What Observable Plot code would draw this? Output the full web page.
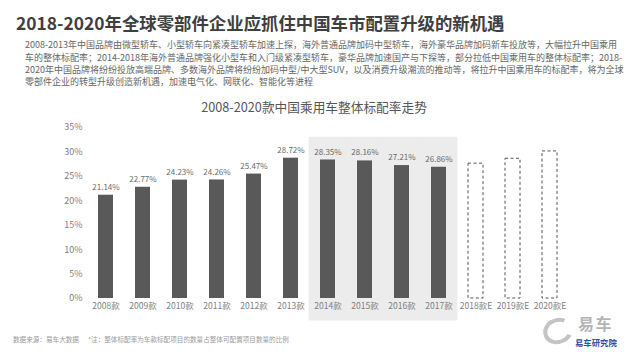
<!DOCTYPE html>
<html><head><meta charset="utf-8">
<script src="https://cdn.jsdelivr.net/npm/d3@7"></script>
<script src="https://cdn.jsdelivr.net/npm/@observablehq/plot@0.6"></script>
<style>
body{margin:0;background:#fff;width:630px;height:354px;overflow:hidden;position:relative;font-family:"Noto Sans CJK SC",sans-serif;}
.abs{position:absolute;white-space:nowrap;}
#title{left:16px;top:12px;font-size:17.4px;font-weight:700;color:#3f3f3f;line-height:22px;}
.pl{left:25px;font-size:9px;color:#666;line-height:12px;text-align:justify;text-align-last:justify;}
#ctitle{left:0;width:628px;top:98px;text-align:center;font-size:12.7px;line-height:18px;color:#555;}
#chart{position:absolute;left:0;top:95px;}
.foot{top:333px;font-size:6.6px;line-height:12px;color:#9a9a9a;}
#ring{position:absolute;left:543px;top:318px;width:22px;height:18px;border:4px solid #c4c4c4;border-right-color:transparent;border-radius:50%;transform:rotate(-20deg);}
#logo1{left:578px;top:315px;font-size:16px;line-height:17px;color:#b5b5b5;font-weight:700;letter-spacing:1.5px;}
#logo2{left:575px;top:337px;font-size:8.4px;line-height:10px;color:#2b55a0;font-weight:700;}
</style></head><body>
<div id="title" class="abs">2018-2020年全球零部件企业应抓住中国车市配置升级的新机遇</div>
<div class="abs pl" style="top:39px;width:573px">2008-2013年中国品牌由微型轿车、小型轿车向紧凑型轿车加速上探，海外普通品牌加码中型轿车，海外豪华品牌加码新车投放等，大幅拉升中国乘用</div>
<div class="abs pl" style="top:52px;width:581px">车的整体标配率；2014-2018年海外普通品牌强化小型车和入门级紧凑型轿车，豪华品牌加速国产与下探等，部分拉低中国乘用车的整体标配率；2018-</div>
<div class="abs pl" style="top:64px;width:570px">2020年中国品牌将纷纷投放高端品牌、多数海外品牌将纷纷加码中型/中大型SUV，以及消费升级潮流的推动等，将拉升中国乘用车的标配率，将为全球</div>
<div class="abs pl" style="top:76px;text-align-last:auto">零部件企业的转型升级创造新机遇，加速电气化、网联化、智能化等进程</div>
<div id="chart"></div>
<div id="ctitle" class="abs">2008-2020款中国乘用车整体标配率走势</div>
<div class="abs foot" style="left:13px">数据来源：易车大数据</div>
<div class="abs foot" style="left:88px">*注：整体标配率为车款标配项目的数量占整体可配置项目数量的比例</div>
<div id="ring"></div>
<div id="logo1" class="abs">易车</div>
<div id="logo2" class="abs">易车研究院</div>
<script>
const years = ["2008款","2009款","2010款","2011款","2012款","2013款","2014款","2015款","2016款","2017款"];
const values = [21.14, 22.77, 24.23, 24.26, 25.47, 28.72, 28.35, 28.16, 27.21, 26.86];
const forecastYears = ["2018款E","2019款E","2020款E"];
const forecastValues = [27.6, 28.6, 30.1];
const shadeYears = ["2014款","2015款","2016款","2017款"];
const yTicks = [0, 5, 10, 15, 20, 25, 30, 35];

const actual = years.map((y, i) => ({year: y, value: values[i]}));
const forecast = forecastYears.map((y, i) => ({year: y, value: forecastValues[i]}));

const chart = Plot.plot({
  width: 630,
  height: 235,
  marginLeft: 86,
  marginRight: 61,
  marginTop: 32,
  marginBottom: 32,
  style: {fontFamily: "'Noto Sans CJK SC', sans-serif", fontSize: "9px", color: "#808080", background: "transparent"},
  x: {domain: years.concat(forecastYears), paddingInner: 0.6, paddingOuter: 0.17, label: null},
  y: {domain: [0, 35], label: null},
  marks: [
    Plot.barY(shadeYears, {x: d => d, y1: -4.6, y2: 33.0, fill: "#ececec", insetLeft: -11.4, insetRight: -11.4}),
    Plot.barY(actual, {x: "year", y: "value", fill: "#595959"}),
    Plot.text(actual, {x: "year", y: "value", text: d => d.value.toFixed(2) + "%", dy: -8, fontSize: 8, fill: "#6a6a6a"}),
    Plot.barY(forecast, {x: "year", y: "value", fill: "white", stroke: "#555", strokeWidth: 1, strokeDasharray: "3,2.5"}),
    Plot.axisY({ticks: yTicks, tickFormat: d => d + "%", tickSize: 0, tickPadding: 4, label: null, fontSize: 9}),
    Plot.axisX({tickSize: 0, tickPadding: 4, label: null, fontSize: 8.5})
  ]
});
document.getElementById("chart").appendChild(chart);
</script>
</body></html>
